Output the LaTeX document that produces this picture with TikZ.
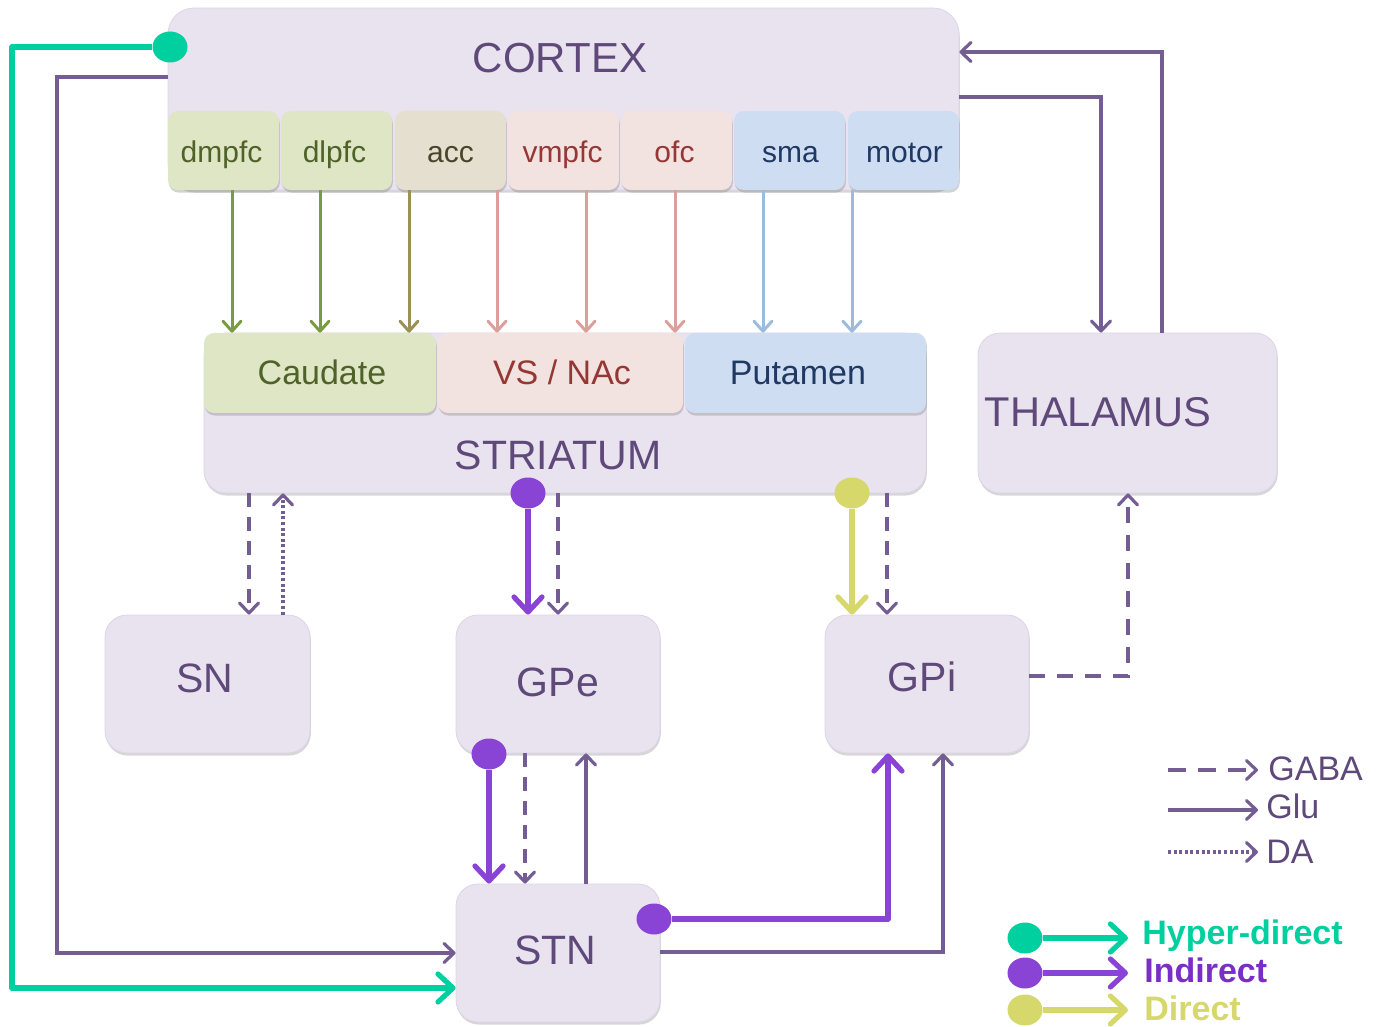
\documentclass[tikz,border=0pt]{standalone}
\usepackage{fontspec}
\setmainfont{Liberation Sans}
\usetikzlibrary{arrows.meta,fit,shadows,shapes.geometric,calc}

\definecolor{regionfill}{HTML}{E9E2EF}
\definecolor{regionline}{HTML}{DDD5E6}
\definecolor{labelc}{HTML}{5F497A}
\definecolor{glu}{HTML}{735D93}
\definecolor{hyper}{HTML}{00CF9F}
\definecolor{indir}{HTML}{8A44D5}
\definecolor{indirtext}{HTML}{7A2EC6}
\definecolor{direct}{HTML}{D6D86C}
\definecolor{greenfill}{HTML}{DFE6C6}
\definecolor{greentext}{HTML}{4F6228}
\definecolor{greenline}{HTML}{7A9A45}
\definecolor{accfill}{HTML}{E5DFD0}
\definecolor{acctext}{HTML}{4A452A}
\definecolor{accline}{HTML}{9A9058}
\definecolor{redfill}{HTML}{F2E3E0}
\definecolor{redtext}{HTML}{953735}
\definecolor{redline}{HTML}{DCA09C}
\definecolor{bluefill}{HTML}{CEDDF1}
\definecolor{bluetext}{HTML}{1F3864}
\definecolor{blueline}{HTML}{9DBCDD}

\tikzset{
  region/.style={inner sep=0pt, rounded corners=11pt, fill=regionfill, draw=regionline, line width=0.4pt,
    drop shadow={shadow xshift=0.4pt, shadow yshift=-1.3pt, opacity=0.32}},
  subarea/.style={inner sep=0pt, rounded corners=5pt, line width=0.3pt,
    drop shadow={shadow xshift=0.4pt, shadow yshift=-1.3pt, opacity=0.35}},
  biglbl/.style={text=labelc, font=\fontsize{20.5}{24}\selectfont, inner sep=0pt, anchor=base},
  midlbl/.style={font=\fontsize{17}{20}\selectfont, inner sep=0pt, anchor=base},
  smalllbl/.style={font=\fontsize{15}{18}\selectfont, inner sep=0pt, anchor=base},
  pathlbl/.style={font=\bfseries\fontsize{17}{20}\selectfont, inner sep=0pt, anchor=base west},
  thinline/.style={line width=1.6pt, draw=glu, -{Straight Barb[round,length=5pt,width=9.5pt]}},
  gaba/.style={thinline, dash pattern=on 7pt off 5pt},
  da/.style={thinline, dash pattern=on 1.5pt off 1.3pt},
  feed/.style={line width=1.5pt, -{Straight Barb[round,length=5pt,width=9pt]}},
  pathway/.style={line width=2.6pt, line join=round, -{Straight Barb[round,length=7.5pt,width=14pt]}},
  dot/.style={ellipse, inner sep=0pt, minimum width=17.5pt, minimum height=15.5pt}
}

\begin{document}
\begin{tikzpicture}[x=0.5pt, y=-0.5pt]
\useasboundingbox (0,0) rectangle (1377,1027);

% ---------- cortex ----------
\node[region, rounded corners=13pt, fit={(168,8) (959,190)}] (cortex) {};
\node[biglbl, font=\fontsize{21}{25}\selectfont] at (560,73) {CORTEX};

\node[subarea, fill=greenfill, fit={(168,111) (279,190)}] (dmpfc) {};
\node[subarea, fill=greenfill, fit={(281,111) (392,190)}] (dlpfc) {};
\node[subarea, fill=accfill,   fit={(395,111) (506,190)}] (acc) {};
\node[subarea, fill=redfill,   fit={(508,111) (619,190)}] (vmpfc) {};
\node[subarea, fill=redfill,   fit={(621,111) (732,190)}] (ofc) {};
\node[subarea, fill=bluefill,  fit={(734,111) (845,190)}] (sma) {};
\node[subarea, fill=bluefill,  fit={(848,111) (959,190)}] (motor) {};

\node[smalllbl, text=greentext] at ($(dmpfc.center)+(-2,12.5)$) {dmpfc};
\node[smalllbl, text=greentext] at ($(dlpfc.center)+(-2,12.5)$) {dlpfc};
\node[smalllbl, text=acctext]   at ($(acc.center)+(0,12.5)$) {acc};
\node[smalllbl, text=redtext]   at ($(vmpfc.center)+(-1,12.5)$) {vmpfc};
\node[smalllbl, text=redtext]   at ($(ofc.center)+(-2,12.5)$) {ofc};
\node[smalllbl, text=bluetext]  at ($(sma.center)+(1,12.5)$) {sma};
\node[smalllbl, text=bluetext]  at ($(motor.center)+(1,12.5)$) {motor};

% ---------- striatum ----------
\node[region, fit={(204,333) (926,493)}] (striatum) {};
\node[biglbl] at (558,469) {STRIATUM};
\node[subarea, fill=greenfill, fit={(204,333) (436,413)}] (caudate) {};
\node[subarea, fill=redfill,   fit={(438,333) (683,413)}] (vsnac) {};
\node[subarea, fill=bluefill,  fit={(685,333) (926,413)}] (putamen) {};
\node[midlbl, text=greentext] at (322,385) {Caudate};
\node[midlbl, text=redtext]   at (562,385) {VS / NAc};
\node[midlbl, text=bluetext]  at (798,385) {Putamen};

% ---------- other nuclei ----------
\node[region, fit={(978,333) (1277,493)}] (thal) {};
\node[biglbl, font=\fontsize{20.8}{24}\selectfont] at (1098,427) {THALAMUS};
\node[region, fit={(105,615) (310,753)}] (sn) {};
\node[biglbl] at (205,692) {SN};
\node[region, fit={(456,615) (660,753)}] (gpe) {};
\node[biglbl] at (558,696) {GPe};
\node[region, fit={(825,615) (1029,753)}] (gpi) {};
\node[biglbl] at (922,691) {GPi};
\node[region, fit={(456,884) (660,1022)}] (stn) {};
\node[biglbl] at (555,964) {STN};

% ---------- cortico-striatal projections ----------
\coordinate (f1) at (232,0);
\coordinate (f2) at (320,0);
\coordinate (f3) at (409,0);
\coordinate (f4) at (497,0);
\coordinate (f5) at (586,0);
\coordinate (f6) at (675,0);
\coordinate (f7) at (763,0);
\coordinate (f8) at (852,0);
\draw[feed, greenline] (dmpfc.south -| f1) -- (caudate.north -| f1);
\draw[feed, greenline] (dlpfc.south -| f2) -- (caudate.north -| f2);
\draw[feed, accline]   (acc.south -| f3)   -- (caudate.north -| f3);
\draw[feed, redline]   (vmpfc.south -| f4) -- (vsnac.north -| f4);
\draw[feed, redline]   (vmpfc.south -| f5) -- (vsnac.north -| f5);
\draw[feed, redline]   (ofc.south -| f6)   -- (putamen.north -| f6);
\draw[feed, blueline]  (sma.south -| f7)   -- (putamen.north -| f7);
\draw[feed, blueline]  (motor.south -| f8) -- (putamen.north -| f8);

% ---------- cortex <-> thalamus ----------
\coordinate (t2c) at (1162,52);
\coordinate (c2t) at (1101,97);
\draw[thinline] (thal.north -| t2c) |- (cortex.east |- t2c);
\draw[thinline] (cortex.east |- c2t) -| (thal.north -| c2t);

% ---------- cortex -> STN ----------
\coordinate (glulane) at (57,77);
\draw[thinline] (cortex.west |- glulane) -- (glulane) |- (stn.west);
\node[dot, fill=hyper] (hdot) at (170,47) {};
\coordinate (hyplane) at (12,988);
\draw[pathway, hyper] (hdot.west) -| (hyplane) -- (hyplane -| stn.west);

% ---------- striatum outputs ----------
\coordinate (s1) at (249,0);
\coordinate (s2) at (283,0);
\draw[gaba] (striatum.south -| s1) -- (sn.north -| s1);
\draw[da] (sn.north -| s2) -- (striatum.south -| s2);

\node[dot, fill=indir] (idot) at (528,493) {};
\draw[pathway, indir] (idot.south) -- (gpe.north -| idot);
\coordinate (s3) at (558,0);
\draw[gaba] (striatum.south -| s3) -- (gpe.north -| s3);

\node[dot, fill=direct] (ddot) at (852,493) {};
\draw[pathway, direct] (ddot.south) -- (gpi.north -| ddot);
\coordinate (s4) at (887,0);
\draw[gaba] (striatum.south -| s4) -- (gpi.north -| s4);

% ---------- GPi -> thalamus ----------
\coordinate (g2t) at (1128,676);
\draw[gaba, dash pattern=on 8pt off 6pt] (gpi.east |- g2t) -| (thal.south -| g2t);

% ---------- GPe <-> STN ----------
\node[dot, fill=indir] (edot) at (489,754) {};
\draw[pathway, indir] (edot.south) -- (stn.north -| edot);
\coordinate (e1) at (525,0);
\coordinate (e2) at (586,0);
\draw[gaba] (gpe.south -| e1) -- (stn.north -| e1);
\draw[thinline] (stn.north -| e2) -- (gpe.south -| e2);

% ---------- STN -> GPi ----------
\node[dot, fill=indir] (sdot) at (654,919) {};
\coordinate (n1) at (888,919);
\draw[pathway, indir] (sdot.east) -| (gpi.south -| n1);
\coordinate (n2) at (943,952);
\draw[thinline] (stn.east |- n2) -| (gpi.south -| n2);

% ---------- legend ----------
\coordinate (la1) at (1168,770);  \coordinate (lb1) at (1258,770);
\coordinate (la2) at (1168,810);  \coordinate (lb2) at (1258,810);
\coordinate (la3) at (1168,852);  \coordinate (lb3) at (1258,852);
\draw[gaba, dash pattern=on 9pt off 6pt] (la1) -- (lb1);
\draw[thinline] (la2) -- (lb2);
\draw[da] (la3) -- (lb3);
\node[midlbl, anchor=base west, text=labelc] at (1268,780) {GABA};
\node[midlbl, anchor=base west, text=labelc] at (1266,818) {Glu};
\node[midlbl, anchor=base west, text=labelc] at (1266,863) {DA};

\node[dot, fill=hyper]  (lhd) at (1025,938) {};
\node[dot, fill=indir]  (lid) at (1025,973) {};
\node[dot, fill=direct] (ldd) at (1025,1010) {};
\coordinate (lhe) at (1128,938);
\coordinate (lie) at (1128,973);
\coordinate (lde) at (1128,1010);
\draw[pathway, hyper]  (lhd.east) -- (lhe);
\draw[pathway, indir]  (lid.east) -- (lie);
\draw[pathway, direct] (ldd.east) -- (lde);
\node[pathlbl, text=hyper]     at (1142,944) {Hyper-direct};
\node[pathlbl, text=indirtext] at (1144,982) {Indirect};
\node[pathlbl, text=direct]    at (1144,1020) {Direct};
\end{tikzpicture}
\end{document}
